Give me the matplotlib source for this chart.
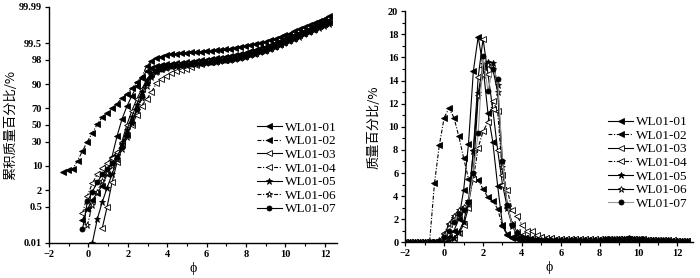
import numpy as np
import matplotlib
matplotlib.use('Agg')
import matplotlib.pyplot as plt
from matplotlib.ticker import FixedLocator, NullLocator, MultipleLocator
from statistics import NormalDist

# ---------------- data ----------------
names = ['WL01-01', 'WL01-02', 'WL01-03', 'WL01-04', 'WL01-05', 'WL01-06', 'WL01-07']
nan = np.nan

# cumulative curves (left), phi grid -1.3 .. 12.2
x_cum = np.round(np.arange(-1.3, 12.21, 0.25), 2)

cum_tail_band = [96.9, 97.0, 97.1, 97.2, 97.3, 97.4, 97.5, 97.6, 97.7, 97.8, 97.9, 98.0, 98.1,
                 98.25, 98.4, 98.55, 98.7, 98.85, 99.0, 99.12, 99.25, 99.36, 99.46, 99.55,
                 99.63, 99.7, 99.76, 99.81, 99.85, 99.88, 99.905, 99.925, 99.94]
cum_tail_mid = [97.3, 97.4, 97.5, 97.6, 97.7, 97.8, 97.9, 98.0, 98.1, 98.2, 98.3, 98.4, 98.5,
                98.62, 98.74, 98.86, 98.98, 99.1, 99.22, 99.32, 99.42, 99.51, 99.59, 99.66,
                99.72, 99.77, 99.81, 99.85, 99.88, 99.905, 99.925, 99.94, 99.955]
cum_tail_top = [98.7, 98.75, 98.8, 98.85, 98.9, 98.93, 98.96, 99.0, 99.03, 99.06, 99.1, 99.15,
                99.2, 99.25, 99.3, 99.35, 99.4, 99.45, 99.5, 99.56, 99.62, 99.67, 99.72, 99.76,
                99.8, 99.84, 99.87, 99.9, 99.92, 99.935, 99.95, 99.96, 99.97]
cum_tail_low = [96.8, 96.9, 97.0, 97.1, 97.2, 97.3, 97.4, 97.5, 97.6, 97.7, 97.8, 97.9, 98.0,
                98.15, 98.3, 98.45, 98.6, 98.75, 98.9, 99.03, 99.16, 99.28, 99.39, 99.49,
                99.58, 99.66, 99.73, 99.79, 99.83, 99.865, 99.89, 99.91, 99.93]
cum_tail_04 = [94.9, 95.5, 95.8, 96.2, 96.6, 97.0, 97.3, 97.55, 97.7, 97.8, 97.9, 98.0, 98.1,
               98.25, 98.4, 98.55, 98.7, 98.85, 99.0, 99.12, 99.25, 99.36, 99.46, 99.55,
               99.63, 99.7, 99.76, 99.81, 99.85, 99.88, 99.905, 99.925, 99.94]

cum01 = [nan, nan, nan, nan, 0.14, 0.4, 0.9, 1.6, 2.8, 6.0, 16, 36, 57, 72, 82, 89, 93,
         95.5, 96.4, 96.8, 97.0, 97.2] + cum_tail_mid
cum02 = [6.8, 7.8, 8.2, 13, 20.6, 30, 40, 51, 59.6, 64.4, 70, 75, 80, 83.6, 87.7, 91.1, 93.4,
         96.8, 97.8, 98.2, 98.4, 98.6] + cum_tail_top
cum03 = [nan, nan, nan, nan, nan, nan, nan, nan, 0.056, 0.5, 3.5, 12, 30, 50, 67, 79, 87,
         92, 94.5, 95.6, 96.2, 96.5] + cum_tail_band
cum04 = [nan, nan, nan, nan, 0.27, 1.3, 3.3, 6, 8.7, 11.7, 15, 20, 27, 38, 50, 62, 73,
         79, 85, 90.5, 92.6, 94.0] + cum_tail_04
cum05 = [nan, nan, nan, nan, nan, nan, 0.01, 0.15, 0.75, 2.4, 6, 14, 27, 44, 60, 74, 85,
         92, 94.8, 95.8, 96.3, 96.6] + cum_tail_low
cum06 = [nan, nan, nan, nan, nan, 0.08, 0.6, 1.8, 3.8, 6.5, 10, 14, 22, 35, 52, 68, 80,
         89, 93.5, 95.3, 96.0, 96.4] + cum_tail_band
cum07 = [nan, nan, nan, nan, 0.05, 0.8, 1.8, 3.5, 6, 8.5, 11.5, 16, 24, 37, 54, 69, 82,
         90.5, 94, 95.4, 96.1, 96.5] + cum_tail_band
cum_all = [cum01, cum02, cum03, cum04, cum05, cum06, cum07]

# frequency curves (right), phi grid -2 .. 12.5
x_freq = np.round(np.arange(-2, 12.51, 0.25), 2)

tail_a = [0.2, 0.18, 0.16, 0.15, 0.14, 0.14, 0.15, 0.15, 0.16, 0.17, 0.18, 0.19, 0.2, 0.21,
          0.22, 0.24, 0.26, 0.28, 0.3, 0.28, 0.25, 0.22, 0.2, 0.18, 0.16, 0.15, 0.13, 0.12,
          0.11, 0.1, 0.09]
tail_b = [0.5, 0.42, 0.36, 0.32, 0.3, 0.28, 0.27, 0.26, 0.26, 0.26, 0.27, 0.27, 0.28, 0.28,
          0.29, 0.3, 0.3, 0.31, 0.32, 0.3, 0.28, 0.26, 0.24, 0.22, 0.2, 0.19, 0.18, 0.17,
          0.16, 0.15, 0.14]
tail_c = [0.22, 0.2, 0.18, 0.17, 0.17, 0.18, 0.19, 0.2, 0.21, 0.22, 0.23, 0.24, 0.25, 0.26,
          0.27, 0.28, 0.3, 0.32, 0.35, 0.33, 0.3, 0.27, 0.24, 0.22, 0.2, 0.18, 0.17, 0.16,
          0.15, 0.14, 0.13]

f01 = [0.02] * 7 + [0.05, 0.2, 0.5, 1.0, 2.0, 4.5, 8.5, 14.8, 17.8, 15.2, 11.2, 8.7, 4.9,
                    1.5, 0.7, 0.45, 0.35, 0.3, 0.25, 0.22, 0.2] + tail_a
f02 = [0.02] * 5 + [0.05, 5.1, 8.4, 10.8, 11.6, 10.8, 9.2, 7.3, 5.5, 5.5, 5.4, 4.6, 3.9,
                    3.6, 2.9, 1.4, 0.6, 0.4, 0.3, 0.25, 0.22, 0.2, 0.2] + tail_a
f03 = [0.02] * 8 + [0.1, 0.2, 0.4, 0.8, 1.5, 3.0, 8.0, 14.3, 17.6, 14.6, 11.5, 8.0, 5.0,
                    3.0, 1.6, 0.9, 0.6, 0.45, 0.35, 0.3] + tail_b
f04 = [0.02] * 7 + [0.1, 0.8, 1.6, 2.2, 2.6, 3.0, 3.5, 5.5, 8.2, 9.6, 10.4, 12.2, 11.4,
                    5.8, 4.5, 2.8, 2.3, 1.5, 1.0, 1.0, 0.6] + tail_b
f05 = [0.02] * 9 + [0.1, 0.4, 0.9, 1.8, 3.6, 7.9, 12.9, 15.4, 15.6, 15.5, 13.6, 7.0, 3.0,
                    1.4, 0.7, 0.4, 0.3, 0.25, 0.2] + tail_a
f06 = [0.02] * 7 + [0.2, 0.6, 1.6, 2.3, 2.8, 3.1, 3.3, 6.0, 12.7, 14.5, 15.3, 15.0, 13.0,
                    6.5, 3.2, 1.6, 0.9, 0.5, 0.35, 0.3, 0.25] + tail_c
f07 = [0.02] * 7 + [0.1, 0.5, 1.0, 1.8, 2.5, 2.8, 3.5, 6.0, 9.5, 16.1, 13.1, 15.0, 14.1,
                    7.0, 3.2, 1.5, 0.8, 0.45, 0.35, 0.3, 0.25] + tail_c
freq_all = [f01, f02, f03, f04, f05, f06, f07]

prob_ticks = [0.01, 0.5, 2, 10, 30, 50, 70, 90, 98, 99.5, 99.99]
prob_labels = ['0.01', '0.5', '2', '10', '30', '50', '70', '90', '98', '99.5', '99.99']

# ---------------- probability scale ----------------
_nd = NormalDist()


def probit(p):
    p = np.asarray(p, dtype=float)
    q = np.clip(p / 100.0, 1e-9, 1 - 1e-9)
    out = [(_nd.inv_cdf(v) if np.isfinite(v) else np.nan) for v in q.ravel()]
    return np.array(out).reshape(q.shape)


def inv_probit(z):
    z = np.asarray(z, dtype=float)
    out = [(_nd.cdf(v) * 100 if np.isfinite(v) else np.nan) for v in z.ravel()]
    return np.array(out).reshape(z.shape)


# ---------------- styles ----------------
dashdot = (0, (3.5, 1.5, 1, 1.5))
markers = ['<', '<', '<', '<', '*', '*', 'o']
faces = ['k', 'k', 'w', 'w', 'k', 'w', 'k']
ls_left = ['-', dashdot, '-', dashdot, '-', dashdot, '-']
ls_right = ['-', dashdot, '-', dashdot, '-', '-', '-']
lc_right = ['k', 'k', 'k', 'k', 'k', 'k', '#999999']
sizes = [4, 4, 4, 4, 4.5, 4.5, 3.6]

serif = ['Liberation Serif', 'DejaVu Serif']
cjk = ['Noto Sans CJK SC', 'DejaVu Sans']
plt.rcParams['font.family'] = serif

fig = plt.figure(figsize=(7, 2.78), dpi=100)
ax1 = fig.add_axes([0.07, 0.126, 0.411, 0.849])
ax2 = fig.add_axes([0.579, 0.128, 0.411, 0.832])

for i in range(7):
    ax1.plot(x_cum, cum_all[i], color='k', lw=0.8, ls=ls_left[i], marker=markers[i],
             ms=sizes[i], mfc=faces[i], mec='k', mew=0.6, label=names[i])
    ax2.plot(x_freq, freq_all[i], color=lc_right[i], lw=0.8, ls=ls_right[i],
             marker=markers[i], ms=sizes[i], mfc=faces[i], mec='k', mew=0.6,
             label=names[i])

ax1.set_yscale('function', functions=(probit, inv_probit))
ax1.set_ylim(0.01, 99.99)
ax1.set_xlim(-2, 12.6)
ax1.yaxis.set_major_locator(FixedLocator(prob_ticks))
ax1.set_yticklabels(prob_labels)
ax1.yaxis.set_minor_locator(NullLocator())
ax1.xaxis.set_major_locator(MultipleLocator(2))
ax1.xaxis.set_minor_locator(MultipleLocator(1))

ax2.set_ylim(0, 20)
ax2.set_xlim(-2, 12.8)
ax2.yaxis.set_major_locator(MultipleLocator(2))
ax2.yaxis.set_minor_locator(MultipleLocator(1))
ax2.xaxis.set_major_locator(MultipleLocator(2))
ax2.xaxis.set_minor_locator(MultipleLocator(1))

for ax in (ax1, ax2):
    for s in ('top', 'right'):
        ax.spines[s].set_visible(False)
    for s in ('left', 'bottom'):
        ax.spines[s].set_linewidth(1.0)
    ax.tick_params(which='major', direction='out', length=3, width=0.9, labelsize=7.5, pad=2)
    ax.tick_params(which='minor', direction='out', length=2, width=0.8)
    for t in ax.get_xticklabels() + ax.get_yticklabels():
        t.set_fontweight('bold')
    ax.set_xlabel('ϕ', fontsize=10, labelpad=2)

ax1.set_ylabel('累积质量百分比/%', family=cjk, fontsize=9.5, labelpad=1)
ax2.set_ylabel('质量百分比/%', family=cjk, fontsize=9.5, labelpad=5)

leg_kw = dict(frameon=False, fontsize=9.5, handlelength=1.9, handletextpad=0.25,
              labelspacing=0.1, borderpad=0, borderaxespad=0, loc='center right',
              bbox_transform=fig.transFigure)
ax1.legend(bbox_to_anchor=(0.481, 0.394), **leg_kw)
ax2.legend(bbox_to_anchor=(0.983, 0.414), **leg_kw)

fig.savefig('out.png', dpi=100)
